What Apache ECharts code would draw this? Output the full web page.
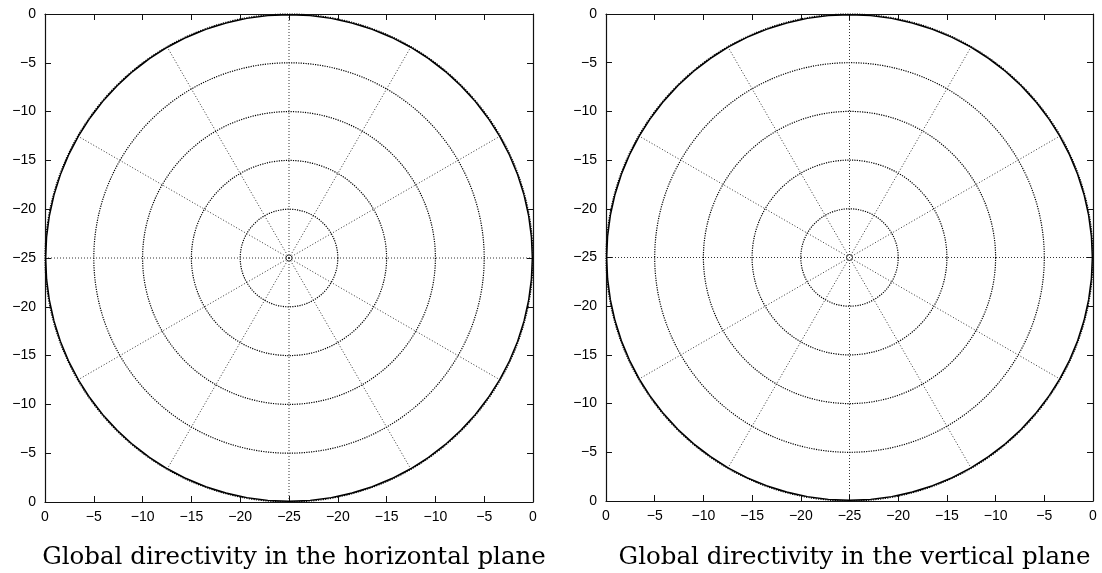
<!DOCTYPE html>
<html>
<head>
<meta charset="utf-8">
<script src="https://cdn.jsdelivr.net/npm/echarts@6/dist/echarts.min.js"></script>
<style>
  html, body { margin: 0; padding: 0; background: #fff; }
  #chart { width: 1102px; height: 573px; }
</style>
</head>
<body>
<div id="chart"></div>
<script>
// measured directivity, dB, every 5 degrees (flat at 0 dB in both planes)
var angles = [0, 5, 10, 15, 20, 25, 30, 35, 40, 45, 50, 55, 60, 65, 70, 75, 80, 85,
              90, 95, 100, 105, 110, 115, 120, 125, 130, 135, 140, 145, 150, 155, 160, 165, 170, 175,
              180, 185, 190, 195, 200, 205, 210, 215, 220, 225, 230, 235, 240, 245, 250, 255, 260, 265,
              270, 275, 280, 285, 290, 295, 300, 305, 310, 315, 320, 325, 330, 335, 340, 345, 350, 355, 360];
var gainHorizontal = [0, 0, 0, 0, 0, 0, 0, 0, 0, 0, 0, 0, 0, 0, 0, 0, 0, 0,
                      0, 0, 0, 0, 0, 0, 0, 0, 0, 0, 0, 0, 0, 0, 0, 0, 0, 0,
                      0, 0, 0, 0, 0, 0, 0, 0, 0, 0, 0, 0, 0, 0, 0, 0, 0, 0,
                      0, 0, 0, 0, 0, 0, 0, 0, 0, 0, 0, 0, 0, 0, 0, 0, 0, 0, 0];
var gainVertical = [0, 0, 0, 0, 0, 0, 0, 0, 0, 0, 0, 0, 0, 0, 0, 0, 0, 0,
                    0, 0, 0, 0, 0, 0, 0, 0, 0, 0, 0, 0, 0, 0, 0, 0, 0, 0,
                    0, 0, 0, 0, 0, 0, 0, 0, 0, 0, 0, 0, 0, 0, 0, 0, 0, 0,
                    0, 0, 0, 0, 0, 0, 0, 0, 0, 0, 0, 0, 0, 0, 0, 0, 0, 0, 0];
var tickLabels = ['0', '\u22125', '\u221210', '\u221215', '\u221220', '\u221225',
                  '\u221220', '\u221215', '\u221210', '\u22125', '0'];
var titles = ['Global directivity in the horizontal plane', 'Global directivity in the vertical plane'];

var chart = echarts.init(document.getElementById('chart'));

var boxes = [
    { left: 45, top: 14, size: 488 },
    { left: 606, top: 14, size: 487 }
];

function labelOf(v) {
    return tickLabels[Math.round((v + 25) / 5)];
}

var grids = [], xAxes = [], yAxes = [], polars = [], angleAxes = [], radiusAxes = [], series = [], titleList = [];

boxes.forEach(function (b, i) {
    grids.push({ left: b.left, top: b.top, width: b.size, height: b.size, outerBoundsMode: 'none', containLabel: false });
    var common = {
        type: 'value', min: -25, max: 25, interval: 5, gridIndex: i,
        axisLine: { show: true, onZero: false, lineStyle: { color: '#111', width: 1.2 } },
        axisTick: { show: true, inside: true, length: 6, lineStyle: { color: '#111', width: 1 } },
        splitLine: { show: false }
    };
    var withLabel = {
        show: true, formatter: labelOf, color: '#000', fontSize: 14,
        fontFamily: 'Liberation Sans', showMinLabel: true, showMaxLabel: true, hideOverlap: false
    };
    xAxes.push(Object.assign({}, common, { position: 'bottom', axisLabel: Object.assign({ margin: 8 }, withLabel) }));
    xAxes.push(Object.assign({}, common, { position: 'top', axisLabel: { show: false } }));
    yAxes.push(Object.assign({}, common, { position: 'left', axisLabel: Object.assign({ margin: 9 }, withLabel) }));
    yAxes.push(Object.assign({}, common, { position: 'right', axisLabel: { show: false } }));

    var cx = b.left + b.size / 2, cy = b.top + b.size / 2;
    polars.push({ center: [cx, cy], radius: b.size / 2 });
    angleAxes.push({
        polarIndex: i, type: 'value', min: 0, max: 360, interval: 30, startAngle: 0,
        axisLine: { show: false }, axisTick: { show: false }, axisLabel: { show: false },
        splitLine: { show: true, lineStyle: { color: '#333', width: 1, type: [1, 2] } }
    });
    radiusAxes.push({
        polarIndex: i, type: 'value', min: -25, max: 0, interval: 5,
        axisLine: { show: false }, axisTick: { show: false }, axisLabel: { show: false },
        splitLine: { show: true, lineStyle: { color: '#000', width: 1.2, type: [1.2, 1.2] } }
    });

    var gains = i === 0 ? gainHorizontal : gainVertical;
    series.push({
        type: 'line', coordinateSystem: 'polar', polarIndex: i,
        data: gains.map(function (g, k) { return [g, angles[k]]; }),
        showSymbol: false, silent: true, clip: false, z: 5,
        lineStyle: { color: '#000', width: 2.8 }
    });
    // origin marker of the polar plot
    series.push({
        type: 'scatter', coordinateSystem: 'polar', polarIndex: i, clip: false, z: 6,
        data: [[-25, 0]], symbol: 'circle', symbolSize: 6, silent: true,
        itemStyle: { color: 'rgba(255,255,255,0)', borderColor: '#222', borderWidth: 1 }
    });

    titleList.push({
        text: titles[i], left: cx, top: 540, textAlign: 'center',
        textStyle: { fontFamily: 'DejaVu Serif', fontWeight: 'normal', fontSize: 24.5, color: '#000' }
    });
});

chart.setOption({
    animation: false,
    backgroundColor: '#fff',
    title: titleList,
    grid: grids,
    xAxis: xAxes.map(function (a, k) { return Object.assign(a, { gridIndex: Math.floor(k / 2) }); }),
    yAxis: yAxes.map(function (a, k) { return Object.assign(a, { gridIndex: Math.floor(k / 2) }); }),
    polar: polars,
    angleAxis: angleAxes,
    radiusAxis: radiusAxes,
    series: series
});

window.onresize = function () { chart.resize(); };
</script>
</body>
</html>
